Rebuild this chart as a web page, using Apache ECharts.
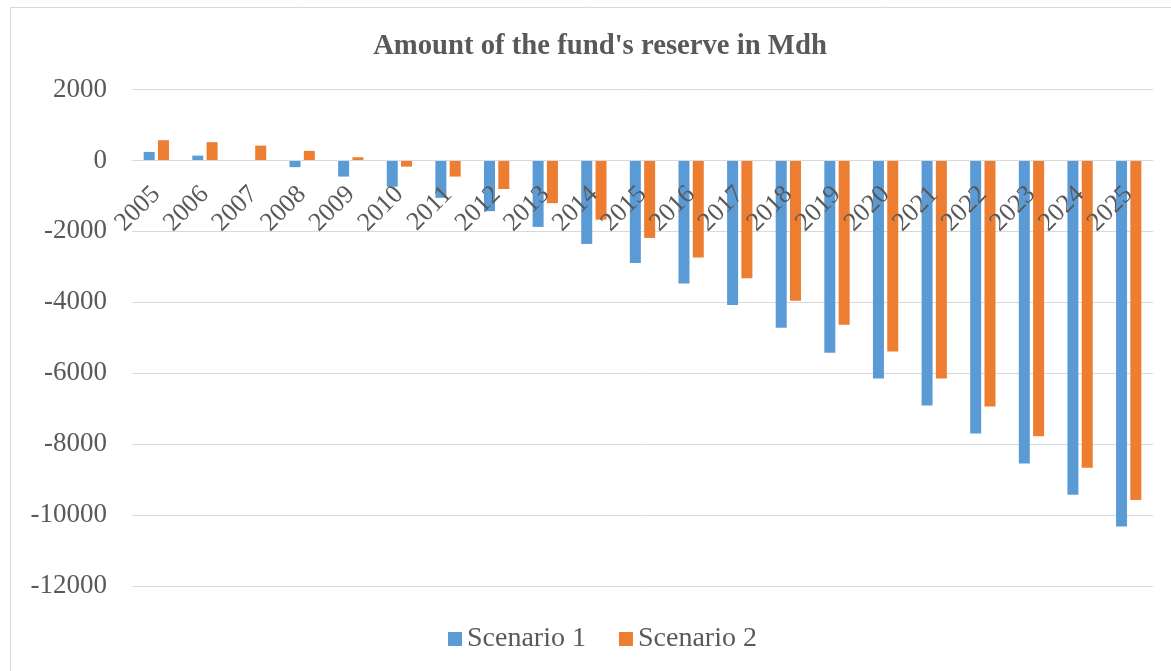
<!DOCTYPE html>
<html>
<head>
<meta charset="utf-8">
<title>Amount of the fund's reserve in Mdh</title>
<script src="https://cdn.jsdelivr.net/npm/echarts@6/dist/echarts.min.js"></script>
<style>
  html, body { margin: 0; padding: 0; background: #fff; }
  #chart { width: 1171px; height: 671px; }
</style>
</head>
<body>
<div id="chart"></div>
<script>
// values (Mdh)
const years = ['2005', '2006', '2007', '2008', '2009', '2010', '2011', '2012', '2013', '2014', '2015',
  '2016', '2017', '2018', '2019', '2020', '2021', '2022', '2023', '2024', '2025'];
const scenario1 = [240, 135, 10, -190, -455, -740, -1055, -1430, -1875, -2355, -2890,
  -3470, -4080, -4720, -5425, -6150, -6910, -7700, -8545, -9430, -10320];
const scenario2 = [570, 515, 417, 268, 90, -175, -455, -805, -1205, -1670, -2185,
  -2735, -3320, -3960, -4635, -5385, -6150, -6940, -7775, -8665, -9575];
const yTicks = [-12000, -10000, -8000, -6000, -4000, -2000, 0, 2000];

const serif = '"Liberation Serif", "Times New Roman", serif';
const textColor = '#595959';
const gridColor = '#D9D9D9';

const gridTop = 89.5;
const gridBottom = 85;
const chartH = 671;
const yMin = yTicks[0];
const yMax = yTicks[yTicks.length - 1];
// category axis sits on the zero line, labels hanging under it
const plotH = chartH - gridTop - gridBottom;
const zeroOffset = -plotH * (0 - yMin) / (yMax - yMin);

const myChart = echarts.init(document.getElementById('chart'));

const option = {
  animation: false,
  backgroundColor: '#fff',
  title: {
    text: "Amount of the fund's reserve in Mdh",
    left: 595,
    textAlign: 'center',
    top: 27,
    textStyle: {
      fontFamily: serif,
      fontSize: 28.7,
      fontWeight: 'bold',
      color: textColor
    }
  },
  // thin frame round the chart area
  graphic: [{
    type: 'rect',
    shape: { x: 10.5, y: 7.5, width: 1200, height: 700 },
    style: { fill: 'none', stroke: gridColor, lineWidth: 1 },
    silent: true
  }],
  legend: {
    data: ['Scenario 1', 'Scenario 2'],
    left: 443,
    top: 620,
    itemWidth: 14,
    itemHeight: 14,
    itemGap: 33,
    icon: 'rect',
    textStyle: {
      fontFamily: serif,
      fontSize: 28,
      color: textColor
    }
  },
  grid: {
    left: 132,
    right: 18,
    top: gridTop,
    bottom: gridBottom,
    containLabel: false
  },
  xAxis: {
    type: 'category',
    data: years,
    offset: zeroOffset,
    z: 10, // year labels are drawn over the bars
    axisLine: {
      onZero: false,
      lineStyle: { color: gridColor, width: 1 }
    },
    axisTick: { show: false },
    axisLabel: {
      rotate: 45,
      margin: 30,
      interval: 0,
      fontFamily: serif,
      fontSize: 26,
      color: textColor
    }
  },
  yAxis: {
    type: 'value',
    min: yMin,
    max: yMax,
    interval: 2000,
    axisLine: { show: false },
    axisTick: { show: false },
    splitLine: {
      lineStyle: { color: gridColor, width: 1 }
    },
    axisLabel: {
      margin: 25,
      fontFamily: serif,
      fontSize: 27,
      color: textColor,
      formatter: function (v) {
        return String(v);
      }
    }
  },
  series: [
    {
      name: 'Scenario 1',
      type: 'bar',
      data: scenario1,
      barWidth: 11,
      barGap: '30%',
      itemStyle: { color: '#5B9BD5' }
    },
    {
      name: 'Scenario 2',
      type: 'bar',
      data: scenario2,
      barWidth: 11,
      itemStyle: { color: '#ED7D31' }
    }
  ]
};

myChart.setOption(option);
</script>
</body>
</html>
